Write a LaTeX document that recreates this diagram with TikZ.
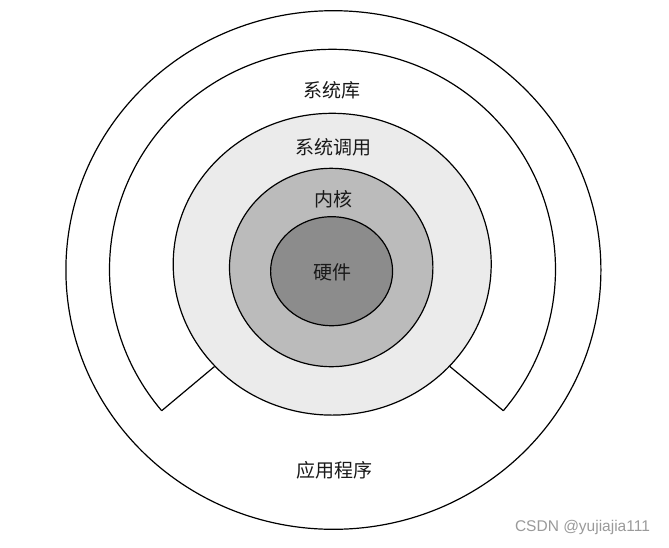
\documentclass[tikz,border=0pt]{standalone}
\usepackage{fontspec}
\setmainfont{Liberation Sans}
\newfontfamily\cjk{Noto Sans CJK SC}
\usetikzlibrary{shapes.geometric,calc}
\definecolor{syscallfill}{HTML}{EBEBEB}
\definecolor{kernelfill}{HTML}{BBBBBB}
\definecolor{hwfill}{HTML}{8C8C8C}
\definecolor{markgray}{HTML}{9A9A9A}
\tikzset{
  ring/.style={ellipse, draw=black, line width=1.2pt, inner sep=0pt},
  lbl/.style={font=\cjk\fontsize{19}{21}\selectfont, text=black!90, inner sep=0pt},
  edge/.style={draw=black, line width=1.2pt, line join=miter}
}
\begin{document}
\begin{tikzpicture}[x=1pt,y=-1pt]
\useasboundingbox (0,0) rectangle (669,547);
\fill[white] (0,0) rectangle (669,547);
% outer circle: application programs
\node[ring, fill=white, minimum width=535pt, minimum height=518.6pt] (app) at (333.4,270) {};
% system library (open arc with notch)
\coordinate (libc) at (332.5,269.3);
\coordinate (libL) at ($(libc)+(140:223 and 220)$);
\draw[edge] (libL) arc[start angle=140, end angle=400, x radius=223, y radius=220] coordinate (libR);
% system call ring
\node[ring, fill=syscallfill, minimum width=318pt, minimum height=301.8pt] (sc) at (332.2,264.2) {};
\draw[edge] (libL) -- (sc.221);
\draw[edge] (libR) -- (sc.319);
% kernel
\node[ring, fill=kernelfill, minimum width=203.4pt, minimum height=198.4pt] (kern) at (331.2,267.5) {};
% hardware
\node[ring, fill=hwfill, minimum width=122pt, minimum height=109pt] (hw) at (331.6,271.2) {};
% labels
\node[lbl] (tapp) at (334.6,470.5) {应用程序};
\node[lbl] (tlib) at (332.3,90.5) {系统库};
\node[lbl] (tsc) at (333.5,147.3) {系统调用};
\node[lbl] (tkern) at (333.5,199) {内核};
\node[lbl] (thw) at (332.5,272.5) {硬件};
% watermark
\node[font=\fontsize{15.5}{17}\selectfont, text=markgray, inner sep=0pt] (wm) at (582.5,527) {CSDN @yujiajia111};
\end{tikzpicture}
\end{document}
